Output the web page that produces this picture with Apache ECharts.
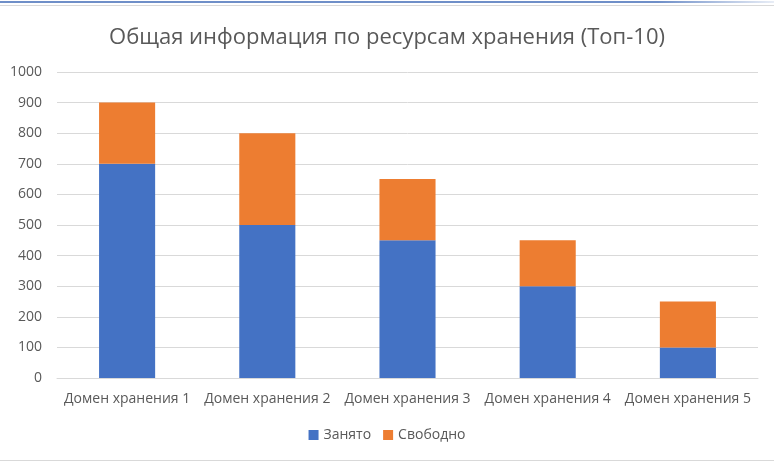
<!DOCTYPE html>
<html>
<head>
<meta charset="utf-8">
<script src="https://cdn.jsdelivr.net/npm/echarts@6.0.0/dist/echarts.min.js"></script>
<style>
  html, body { margin: 0; padding: 0; background: #fff; }
  #chart { width: 774px; height: 462px; }
</style>
</head>
<body>
<div id="chart"></div>
<script>
// Data
const categories = ['Домен хранения 1', 'Домен хранения 2', 'Домен хранения 3', 'Домен хранения 4', 'Домен хранения 5'];
const used = [700, 500, 450, 300, 100];
const free = [200, 300, 200, 150, 150];

const textColor = '#595959';
const labelFont = '"Open Sans", "Noto Sans", sans-serif';

const chart = echarts.init(document.getElementById('chart'), null, { renderer: 'canvas' });

chart.setOption({
    animation: false,
    title: {
        text: 'Общая информация по ресурсам хранения (Топ-10)',
        left: 'center',
        top: 22,
        textStyle: {
            fontFamily: '"Liberation Sans Narrow", "Open Sans", sans-serif',
            fontWeight: 'normal',
            fontSize: 22,
            color: textColor
        }
    },
    legend: {
        bottom: 15,
        left: 'center',
        itemWidth: 10,
        itemHeight: 10,
        itemGap: 12,
        icon: 'rect',
        textStyle: { fontFamily: labelFont, fontSize: 14, color: textColor },
        data: ['Занято', 'Свободно']
    },
    grid: {
        left: 57,
        right: 16,
        top: 72,
        bottom: 84,
        containLabel: false
    },
    xAxis: {
        type: 'category',
        data: categories,
        axisLine: { lineStyle: { color: '#d9d9d9' } },
        axisTick: { show: false },
        axisLabel: {
            interval: 0,
            margin: 14,
            fontFamily: labelFont,
            fontSize: 14,
            color: textColor
        }
    },
    yAxis: {
        type: 'value',
        min: 0,
        max: 1000,
        interval: 100,
        axisLine: { show: false },
        axisTick: { show: false },
        splitLine: { lineStyle: { color: '#d9d9d9' } },
        axisLabel: {
            margin: 15,
            fontFamily: labelFont,
            fontSize: 14,
            color: textColor,
            formatter: v => String(v)
        }
    },
    series: [
        {
            name: 'Занято',
            type: 'bar',
            stack: 'total',
            barWidth: '40%',
            itemStyle: { color: '#4472c4' },
            data: used
        },
        {
            name: 'Свободно',
            type: 'bar',
            stack: 'total',
            barWidth: '40%',
            itemStyle: { color: '#ed7d31' },
            data: free
        }
    ],
    graphic: [
        {
            type: 'rect',
            shape: { x: 0, y: 1, width: 774, height: 2 },
            style: {
                fill: new echarts.graphic.LinearGradient(0, 0, 1, 0, [
                    { offset: 0, color: '#6f8fc8' },
                    { offset: 0.85, color: '#6f8fc8' },
                    { offset: 1, color: '#e8edf6' }
                ])
            }
        },
        {
            type: 'rect',
            shape: { x: 0, y: 5, width: 774, height: 1 },
            style: { fill: '#d9d9d9' }
        },
        {
            type: 'rect',
            shape: { x: 0, y: 460, width: 774, height: 1 },
            style: { fill: '#d9d9d9' }
        }
    ]
});
</script>
</body>
</html>
